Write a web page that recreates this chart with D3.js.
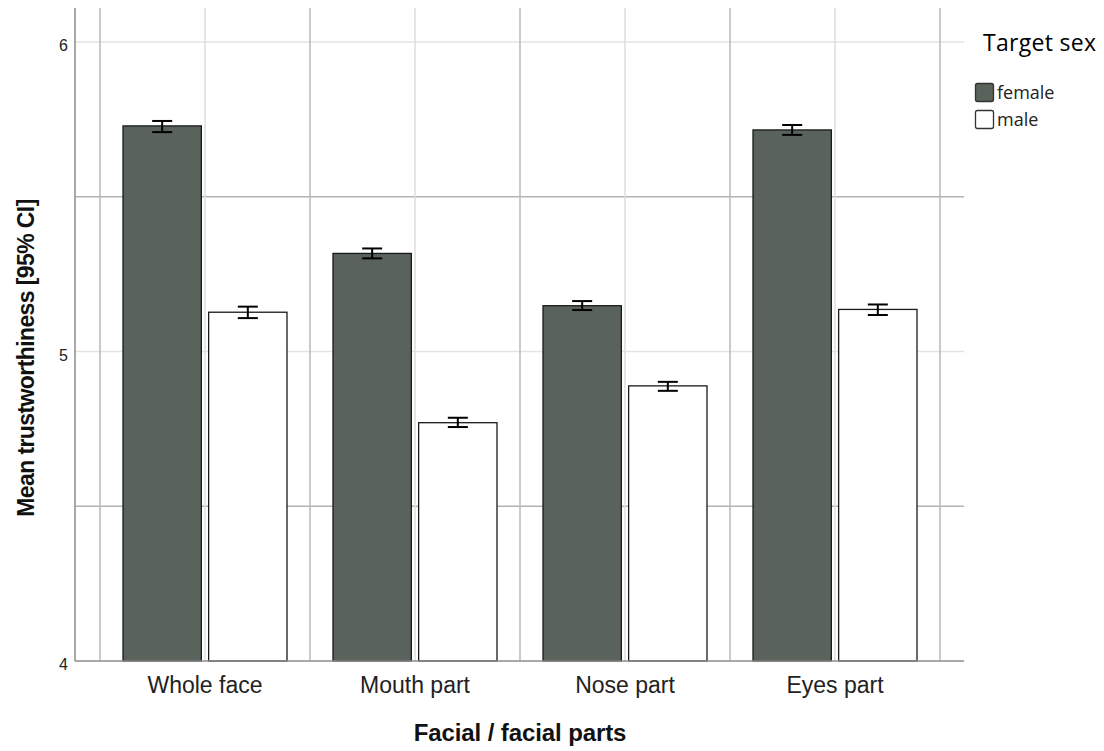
<!DOCTYPE html>
<html>
<head>
<meta charset="utf-8">
<script src="https://cdn.jsdelivr.net/npm/d3@7"></script>
<style>
  body { margin: 0; background: #fff; }
  svg { display: block; }
  .tick-label { font-family: "Liberation Sans", Arial, sans-serif; }
  .legend text { font-family: "Open Sans", "Noto Sans", sans-serif; }
</style>
</head>
<body>
<svg id="chart" width="1104" height="751"></svg>
<script>
// chart values
var categories = ["Whole face", "Mouth part", "Nose part", "Eyes part"];
var sexes = ["female", "male"];
var femaleMean = [5.729, 5.317, 5.148, 5.716];
var femaleLow  = [5.709, 5.301, 5.134, 5.700];
var femaleHigh = [5.745, 5.333, 5.163, 5.732];
var maleMean = [5.127, 4.770, 4.889, 5.136];
var maleLow  = [5.108, 4.756, 4.873, 5.118];
var maleHigh = [5.145, 4.786, 4.902, 5.152];
var yTicks = [4, 5, 6];
var yGridLight = [5, 6];
var yGridDark = [4.5, 5.5];

var colors = { female: "#5a625c", male: "#ffffff" };

var svg = d3.select("#chart"),
    PLOT = { left: 75, right: 964, top: 8, bottom: 661 };

// scales
var x0 = d3.scaleBand().domain(categories).range([100, 940]),
    x1 = d3.scaleBand().domain(sexes).range([23, 187]).paddingInner(0.085),
    y = d3.scaleLinear().domain([4, 6.11]).range([PLOT.bottom, PLOT.top]);

// build rows for the bars
var rows = [];
categories.forEach(function(c, i) {
  rows.push({ cat: c, sex: "female", mean: femaleMean[i], lo: femaleLow[i], hi: femaleHigh[i] });
  rows.push({ cat: c, sex: "male", mean: maleMean[i], lo: maleLow[i], hi: maleHigh[i] });
});

// gridlines
var grid = svg.append("g");
grid.selectAll(".hl").data(yGridLight).enter().append("line")
  .attr("x1", PLOT.left).attr("x2", PLOT.right)
  .attr("y1", function(d) { return y(d); }).attr("y2", function(d) { return y(d); })
  .attr("stroke", "#e3e3e3").attr("stroke-width", 1.5);
grid.selectAll(".hd").data(yGridDark).enter().append("line")
  .attr("x1", PLOT.left).attr("x2", PLOT.right)
  .attr("y1", function(d) { return y(d); }).attr("y2", function(d) { return y(d); })
  .attr("stroke", "#b3b3b3").attr("stroke-width", 1.5);

// vertical lines: light at the group centres, darker at the group edges
var edges = categories.map(function(c) { return x0(c); }).concat([x0.range()[1]]);
grid.selectAll(".vl").data(categories).enter().append("line")
  .attr("x1", function(d) { return x0(d) + x0.bandwidth() / 2; })
  .attr("x2", function(d) { return x0(d) + x0.bandwidth() / 2; })
  .attr("y1", PLOT.top).attr("y2", PLOT.bottom)
  .attr("stroke", "#dedede").attr("stroke-width", 1.5);
grid.selectAll(".vd").data(edges).enter().append("line")
  .attr("x1", function(d) { return d; }).attr("x2", function(d) { return d; })
  .attr("y1", PLOT.top).attr("y2", PLOT.bottom)
  .attr("stroke", "#b8b8b8").attr("stroke-width", 1.5);

// bars
svg.append("g").selectAll("rect").data(rows).enter().append("rect")
  .attr("x", function(d) { return x0(d.cat) + x1(d.sex); })
  .attr("width", x1.bandwidth())
  .attr("y", function(d) { return y(d.mean); })
  .attr("height", function(d) { return y(4) - y(d.mean); })
  .attr("fill", function(d) { return colors[d.sex]; })
  .attr("stroke", "#1a1a1a")
  .attr("stroke-width", 1.3);

// error bars
var err = svg.append("g").attr("stroke", "#000").attr("stroke-width", 2);
rows.forEach(function(d) {
  var cx = x0(d.cat) + x1(d.sex) + x1.bandwidth() / 2;
  err.append("line").attr("x1", cx).attr("x2", cx).attr("y1", y(d.lo)).attr("y2", y(d.hi));
  err.append("line").attr("x1", cx - 10).attr("x2", cx + 10).attr("y1", y(d.lo)).attr("y2", y(d.lo));
  err.append("line").attr("x1", cx - 10).attr("x2", cx + 10).attr("y1", y(d.hi)).attr("y2", y(d.hi));
});

// axes
var yAxis = d3.axisLeft(y).tickValues(yTicks).tickSize(0).tickPadding(7).tickFormat(d3.format("d"));
var gy = svg.append("g").attr("transform", "translate(" + PLOT.left + ",0)").call(yAxis);
gy.select(".domain").remove();
gy.selectAll("text").attr("class", "tick-label").attr("font-size", 16).attr("fill", "#222").attr("dy", "0.55em");

var xAxis = d3.axisBottom(x0).tickSize(0).tickPadding(16);
var gx = svg.append("g").attr("transform", "translate(0," + PLOT.bottom + ")").call(xAxis);
gx.select(".domain").remove();
gx.selectAll("text").attr("class", "tick-label").attr("font-size", 23).attr("fill", "#222");

// axis lines
svg.append("line").attr("x1", PLOT.left).attr("x2", PLOT.left)
  .attr("y1", PLOT.top).attr("y2", PLOT.bottom).attr("stroke", "#8c8c8c").attr("stroke-width", 1.5);
svg.append("line").attr("x1", PLOT.left).attr("x2", PLOT.right)
  .attr("y1", PLOT.bottom).attr("y2", PLOT.bottom).attr("stroke", "#8c8c8c").attr("stroke-width", 1.5);

// axis titles
svg.append("text")
  .attr("x", 520).attr("y", 741)
  .attr("text-anchor", "middle")
  .attr("font-family", "Liberation Sans, Arial, sans-serif")
  .attr("font-weight", "bold").attr("font-size", 24).attr("letter-spacing", -0.1)
  .attr("fill", "#111")
  .text("Facial / facial parts");

svg.append("text")
  .attr("transform", "translate(34,358) rotate(-90)")
  .attr("text-anchor", "middle")
  .attr("font-family", "Liberation Sans, Arial, sans-serif")
  .attr("font-weight", "bold").attr("font-size", 23).attr("letter-spacing", -0.6)
  .attr("fill", "#111")
  .text("Mean trustworthiness [95% CI]");

// legend
var legend = svg.append("g").attr("class", "legend");
legend.append("text").attr("x", 983).attr("y", 51)
  .attr("font-size", 23).attr("letter-spacing", 0.3).attr("fill", "#000").text("Target sex");
var items = legend.selectAll(".item").data(sexes).enter().append("g")
  .attr("transform", function(d, i) { return "translate(975," + (83 + i * 27) + ")"; });
items.append("rect").attr("x", 0.5).attr("y", 0.5).attr("width", 18).attr("height", 18)
  .attr("rx", 2)
  .attr("fill", function(d) { return colors[d]; })
  .attr("stroke", "#333").attr("stroke-width", 1.3);
items.append("text").attr("x", 22).attr("y", 16)
  .attr("font-size", 18).attr("fill", "#222")
  .text(function(d) { return d; });
</script>
</body>
</html>
